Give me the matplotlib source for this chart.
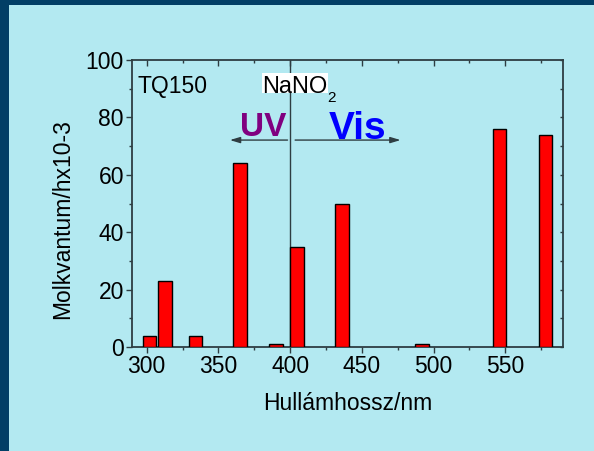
import matplotlib
matplotlib.use("Agg")
import matplotlib.pyplot as plt
from matplotlib.patches import Rectangle
from matplotlib.ticker import MultipleLocator

plt.rcParams['font.family'] = ['Liberation Sans', 'DejaVu Sans']

# Data
wavelengths = [302, 313, 334, 365, 390, 405, 436, 492, 546, 578]
values = [4, 23, 4, 64, 1, 35, 50, 1, 76, 74]
xlabel = "Hullámhossz/nm"
ylabel = "Molkvantum/hx10-3"
sample_label = "TQ150"
x_ticks = [300, 350, 400, 450, 500, 550]
y_ticks = [0, 20, 40, 60, 80, 100]
divider = 400

W, H = 594, 451
dark = '#023f66'
light = '#b3e9f1'
axc = '#2e3d42'

fig = plt.figure(figsize=(W / 100, H / 100), dpi=100, facecolor=dark)
bg = Rectangle((9 / W, 0), 1 - 9 / W, 1 - 5 / H, transform=fig.transFigure,
               facecolor=light, edgecolor='none', zorder=-10)
fig.patches.append(bg)

x0, x1 = 132.3, 562.7
y0, y1 = 60, 347
ax = fig.add_axes([x0 / W, 1 - y1 / H, (x1 - x0) / W, (y1 - y0) / H])
ax.set_facecolor('none')
ax.set_zorder(1)

ax.bar(wavelengths, values, width=9.5, color='#ff0000', edgecolor='black', linewidth=1.0, zorder=3)

ax.set_xlim(290, 590)
ax.set_ylim(0, 100)
ax.set_xticks(x_ticks)
ax.set_yticks(y_ticks)
ax.xaxis.set_minor_locator(MultipleLocator(25))
ax.yaxis.set_minor_locator(MultipleLocator(10))
ax.tick_params(which='both', direction='out', colors=axc, labelcolor='black', labelsize=16.5, width=1.0)
ax.tick_params(which='major', length=4)
ax.tick_params(which='minor', length=2.5)
ax.tick_params(axis='x', pad=2)
ax.tick_params(axis='y', pad=2)
for s in ax.spines.values():
    s.set_color(axc)
    s.set_linewidth(1.3)

secx = ax.secondary_xaxis('top')
secx.set_xticks(x_ticks)
secx.xaxis.set_minor_locator(MultipleLocator(25))
secx.tick_params(which='both', direction='in', colors=axc, labeltop=False, width=1.0)
secx.tick_params(which='major', length=4)
secx.tick_params(which='minor', length=2)
secx.spines['top'].set_visible(False)

secy = ax.secondary_yaxis('right')
secy.set_yticks(y_ticks)
secy.yaxis.set_minor_locator(MultipleLocator(10))
secy.tick_params(which='both', direction='in', colors=axc, labelright=False, width=1.0, length=2)
secy.spines['right'].set_visible(False)

fig.text((x0 + x1) / 2 / W, 1 - 404 / H, xlabel, ha='center', va='center', fontsize=16.5)
fig.text(63 / W, 1 - 219 / H, ylabel, ha='center', va='center', rotation=90, fontsize=16.5)

# divider line
ax.axvline(divider, color=axc, linewidth=1.0, zorder=2)

# Annotations
ax.text(293.3, 88.6, sample_label, fontsize=16.5, ha='left', va='baseline', zorder=5)
ax.add_patch(Rectangle((380.4, 88.4), 45.7, 7.2, facecolor='white', edgecolor='none', zorder=4))
ax.text(380.8, 88.6, "NaNO", fontsize=17, ha='left', va='baseline', zorder=5)
ax.text(425.6, 85.4, "2", fontsize=11, ha='left', va='baseline', zorder=5)

ax.text(365.3, 73.4, "UV", fontsize=24, fontweight='bold', color='#800080', ha='left', va='baseline', zorder=5)
ax.text(426.6, 72.3, "Vis", fontsize=28, fontweight='bold', color='#0000ff', ha='left', va='baseline', zorder=5)

arrow_kw = dict(arrowstyle='-|>,head_length=0.6,head_width=0.18', color=axc, lw=1.0, shrinkA=0, shrinkB=0)
ax.annotate('', xy=(358, 72.1), xytext=(398.2, 72.1), arrowprops=arrow_kw, zorder=4)
ax.annotate('', xy=(477, 72.1), xytext=(403.5, 72.1), arrowprops=arrow_kw, zorder=4)

fig.savefig('out.png', dpi=100, facecolor=dark)
